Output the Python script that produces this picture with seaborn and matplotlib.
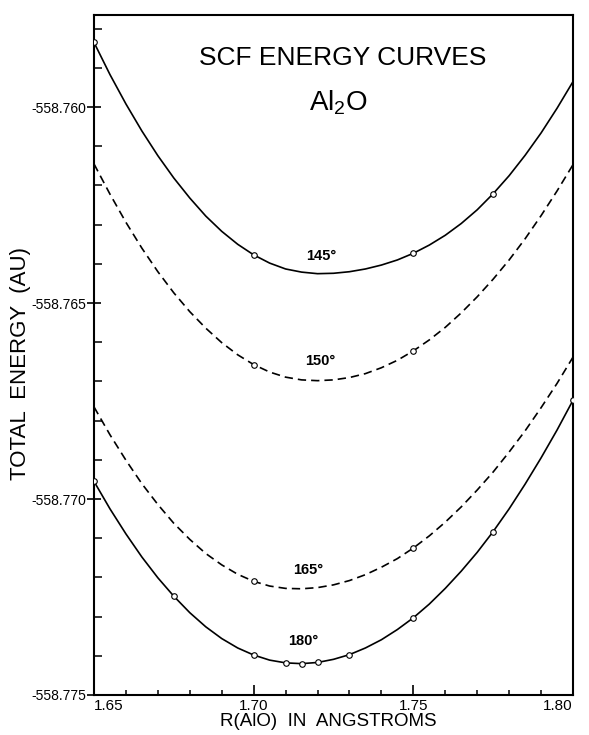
import seaborn as sns
import matplotlib.pyplot as plt
import pandas as pd
from matplotlib.ticker import MultipleLocator

r_curve = [1.650, 1.655, 1.660, 1.665, 1.670, 1.675, 1.680, 1.685, 1.690, 1.695,
           1.700, 1.705, 1.710, 1.715, 1.720, 1.725, 1.730, 1.735, 1.740, 1.745,
           1.750, 1.755, 1.760, 1.765, 1.770, 1.775, 1.780, 1.785, 1.790, 1.795,
           1.800]

# total energy (AU) along each drawn curve
e145 = [-558.75835, -558.75917, -558.75992, -558.76061, -558.76124, -558.76181,
        -558.76232, -558.76278, -558.76317, -558.76350, -558.76377, -558.76398,
        -558.76413, -558.76421, -558.76425, -558.76424, -558.76420, -558.76413,
        -558.76403, -558.76390, -558.76373, -558.76352, -558.76327, -558.76297,
        -558.76262, -558.76221, -558.76175, -558.76123, -558.76066, -558.76003,
        -558.75935]
e150 = [-558.76145, -558.76222, -558.76294, -558.76360, -558.76420, -558.76474,
        -558.76522, -558.76564, -558.76601, -558.76632, -558.76657, -558.76676,
        -558.76689, -558.76696, -558.76698, -558.76696, -558.76690, -558.76680,
        -558.76665, -558.76646, -558.76622, -558.76594, -558.76562, -558.76525,
        -558.76484, -558.76439, -558.76390, -558.76336, -558.76277, -558.76214,
        -558.76147]
e165 = [-558.76765, -558.76836, -558.76901, -558.76961, -558.77014, -558.77062,
        -558.77103, -558.77139, -558.77168, -558.77192, -558.77210, -558.77222,
        -558.77228, -558.77229, -558.77226, -558.77219, -558.77208, -558.77193,
        -558.77174, -558.77152, -558.77125, -558.77094, -558.77059, -558.77020,
        -558.76977, -558.76931, -558.76880, -558.76826, -558.76767, -558.76705,
        -558.76638]
e180 = [-558.76955, -558.77025, -558.77089, -558.77148, -558.77201, -558.77248,
        -558.77290, -558.77326, -558.77356, -558.77380, -558.77398, -558.77411,
        -558.77418, -558.77420, -558.77417, -558.77409, -558.77397, -558.77380,
        -558.77359, -558.77333, -558.77303, -558.77268, -558.77228, -558.77184,
        -558.77136, -558.77083, -558.77025, -558.76962, -558.76895, -558.76824,
        -558.76748]

# computed SCF points (open circles)
pts145_r = [1.65, 1.70, 1.75, 1.775]
pts145_e = [-558.75835, -558.76377, -558.76373, -558.76221]
pts150_r = [1.70, 1.75]
pts150_e = [-558.76657, -558.76622]
pts165_r = [1.70, 1.75]
pts165_e = [-558.77210, -558.77125]
pts180_r = [1.65, 1.675, 1.70, 1.71, 1.715, 1.72, 1.73, 1.75, 1.775, 1.80]
pts180_e = [-558.76955, -558.77248, -558.77398, -558.77418, -558.77420,
            -558.77417, -558.77397, -558.77303, -558.77083, -558.76748]

angles = ["145", "150", "165", "180"]
angle_labels = ["145°", "150°", "165°", "180°"]
label_r = [1.7211, 1.7208, 1.7170, 1.7155]
label_e = [-558.76381, -558.76649, -558.77180, -558.77362]

yticks = [-558.760, -558.765, -558.770, -558.775]
ytick_labels = ["-558.760", "-558.765", "-558.770", "-558.775"]
xticks = [1.65, 1.70, 1.75, 1.80]
xtick_labels = ["1.65", "1.70", "1.75", "1.80"]

# long-form tables
curves = pd.concat([
    pd.DataFrame({"R": r_curve, "E": e, "angle": a})
    for a, e in zip(angles, [e145, e150, e165, e180])
])
points = pd.concat([
    pd.DataFrame({"R": r, "E": e, "angle": a})
    for a, r, e in zip(angles, [pts145_r, pts150_r, pts165_r, pts180_r],
                       [pts145_e, pts150_e, pts165_e, pts180_e])
])

sns.set_style("ticks")
plt.rcParams["font.family"] = ["Liberation Sans", "DejaVu Sans"]
plt.rcParams["mathtext.fontset"] = "custom"
plt.rcParams["mathtext.rm"] = "Liberation Sans"
plt.rcParams["axes.unicode_minus"] = False
for key in ["text.color", "axes.labelcolor", "xtick.color", "ytick.color",
            "axes.edgecolor"]:
    plt.rcParams[key] = "black"

fig = plt.figure(figsize=(5.89, 7.35), dpi=100)
ax = fig.add_axes([94 / 589, 1 - 695 / 735, 479 / 589, 680 / 735])

sns.lineplot(data=curves, x="R", y="E", hue="angle", style="angle",
             palette={a: "black" for a in angles},
             dashes={"145": "", "150": (5, 3), "165": (5, 3), "180": ""},
             estimator=None, sort=False, linewidth=1.2, legend=False, ax=ax)
sns.scatterplot(data=points, x="R", y="E", color="white", edgecolor="black",
                linewidth=0.8, s=16, marker="o", legend=False, zorder=3, ax=ax)

for lab, r, e in zip(angle_labels, label_r, label_e):
    ax.text(r, e, lab, ha="center", va="center", fontsize=10.5, fontweight="bold")

ax.text(0.519, 0.9265, "SCF ENERGY CURVES", transform=ax.transAxes,
        ha="center", va="baseline", fontsize=19)
ax.text(0.511, 0.860, r"Al$_\mathrm{2}$O", transform=ax.transAxes,
        ha="center", va="baseline", fontsize=20)

ax.set_xlim(1.65, 1.80)
ax.set_ylim(-558.775, -558.75765)
ax.set_xticks(xticks, labels=xtick_labels)
ax.set_yticks(yticks, labels=ytick_labels)
ax.xaxis.set_minor_locator(MultipleLocator(0.01))
ax.yaxis.set_minor_locator(MultipleLocator(0.001))
ax.tick_params(axis="x", which="major", direction="in", length=7, width=1.2,
               labelsize=11, pad=3)
ax.tick_params(axis="x", which="minor", direction="in", length=3.3, width=1.1)
ax.tick_params(axis="y", which="major", direction="inout", length=10, width=1.2,
               labelsize=10, pad=0.5)
ax.tick_params(axis="y", which="minor", direction="in", length=6, width=1.1)
xl = ax.get_xticklabels()
xl[0].set_horizontalalignment("left")
xl[-1].set_horizontalalignment("right")

for sp in ax.spines.values():
    sp.set_linewidth(1.5)

ax.set_xlabel("R(AlO)  IN  ANGSTROMS", fontsize=13.5)
ax.set_ylabel("TOTAL  ENERGY  (AU)", fontsize=16)
ax.xaxis.set_label_coords(0.489, -0.027)
ax.yaxis.set_label_coords(-0.131, 0.487)

fig.savefig("out.png", dpi=100)
